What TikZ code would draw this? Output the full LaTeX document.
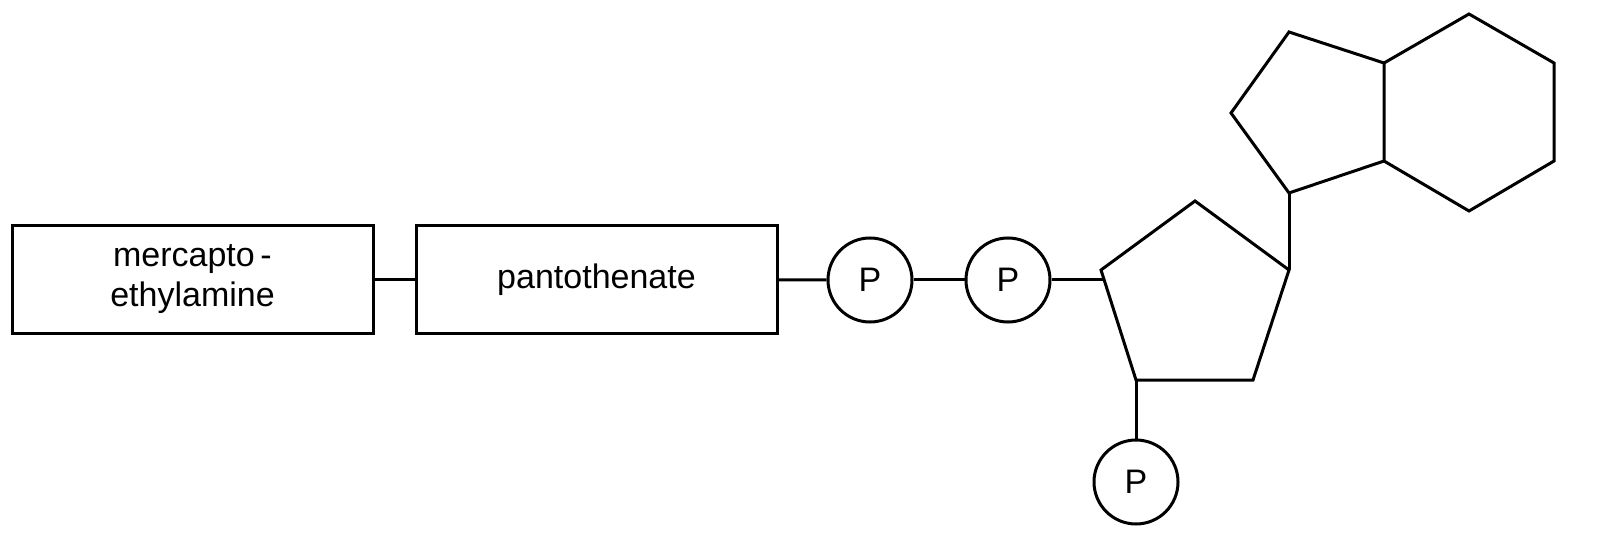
\documentclass[tikz,border=0pt]{standalone}
\usepackage{fontspec}
\setmainfont{Liberation Sans}
\usetikzlibrary{positioning}

\begin{document}
\begin{tikzpicture}[x=1pt,y=-1pt,line width=3pt,
    part/.style={draw,minimum width=361pt,minimum height=107pt,align=center,
        font=\fontsize{34}{40}\selectfont},
    phos/.style={draw,circle,minimum size=84pt,inner sep=0pt,
        font=\fontsize{34}{40}\selectfont}]

\useasboundingbox (0,0) rectangle (1614,553);

\node[part] (mer) at (192.5,279.5) {mercapto\,-\\ethylamine};
\node[part] (pan) at (596.5,279.5) {pantothenate};

\node[phos] (p1) at (870,280) {P};
\node[phos] (p2) at (1008,280) {P};
\node[phos] (p3) at (1136,482) {P};

% ribose ring
\coordinate (r1) at (1101,270);
\coordinate (r2) at (1195,201);
\coordinate (r3) at (1289,270);
\coordinate (r4) at (1253,380);
\coordinate (r5) at (1136,380);
\draw[line join=miter] (r1) -- (r2) -- (r3) -- (r4) -- (r5) -- cycle;

% base, five ring
\coordinate (b1) at (1289,193);
\coordinate (b2) at (1231,113);
\coordinate (b3) at (1289,32);
\coordinate (b4) at (1384,63);
\coordinate (b5) at (1384,161);
\draw (b1) -- (b2) -- (b3) -- (b4) -- (b5) -- cycle;

% six ring
\coordinate (h1) at (1469,14);
\coordinate (h2) at (1554,63);
\coordinate (h3) at (1554,161);
\coordinate (h4) at (1469,211);
\draw (b4) -- (h1) -- (h2) -- (h3) -- (h4) -- (b5);

\draw (mer) -- (pan);
\draw (pan) -- (p1);
\draw (p1) -- (p2);
\draw (p2.east) -- (1103,280);
\draw (r3) -- (b1);
\draw (r5) -- (p3);

\end{tikzpicture}
\end{document}
